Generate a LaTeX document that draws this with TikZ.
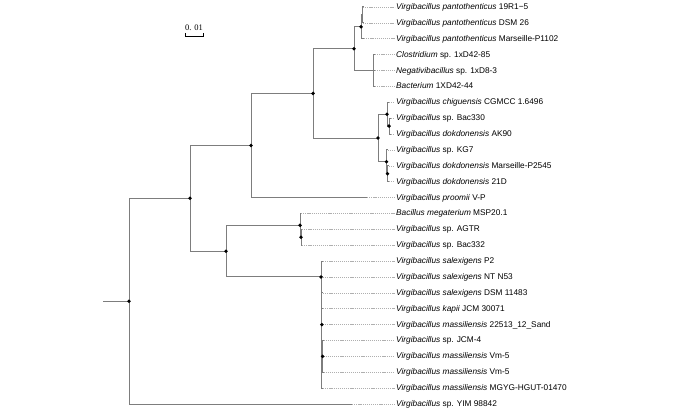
\documentclass[tikz,border=0pt]{standalone}
\usepackage{fontspec}
\setmainfont{Liberation Sans}
\newfontfamily\scalefont{Liberation Serif}
\definecolor{brc}{RGB}{125,125,125}
\definecolor{dlc}{RGB}{175,175,175}
\newcommand\spn[1]{\textit{#1}}
\begin{document}
\begin{tikzpicture}[x=1pt,y=-1pt,
  br/.style={draw=brc, line width=1pt},
  dl/.style={draw=dlc, line width=0.55pt, dash pattern=on 1.2pt off 0.9pt},
  lab/.style={anchor=west, inner xsep=1.5pt, inner ysep=0pt, text height=6pt, text depth=1pt, font=\fontsize{8.3}{10}\selectfont},
  dot/.style={circle, fill=black, inner sep=0pt, minimum size=3.8pt}]
\useasboundingbox (0,0) rectangle (700,411);

% internal nodes
\coordinate (base) at (103,301.2);
\coordinate (root) at (129,301.2);
\coordinate (A) at (190,198.3);
\coordinate (B) at (251,145.5);
\coordinate (C) at (313,93.4);
\coordinate (D) at (354,48.7);
\coordinate (E) at (361,26.85);
\coordinate (F) at (362.5,14.94);
\coordinate (G) at (373,70.52);
\coordinate (H) at (378,138.05);
\coordinate (I) at (387,114.2);
\coordinate (K) at (389,126.1);
\coordinate (J) at (386.5,161.83);
\coordinate (L) at (387.5,173.74);
\coordinate (O) at (226,251.16);
\coordinate (M) at (300,225.35);
\coordinate (N) at (301,237.26);
\coordinate (P) at (321,276.96);
\coordinate (Q) at (321.8,324.6);
\coordinate (R) at (322.6,356.36);

% tips
\foreach \i/\x in {1/363,2/363,3/364,4/375,5/375,6/375,7/389,8/390.5,9/390.5,10/388,11/389,12/389,13/367,14/301,15/302,16/302,17/323,18/323,19/323,20/323,21/323,22/323.5,23/323.5,24/323.5,25/323,26/352}
  \coordinate (t\i) at (\x,{7+(\i-1)*15.88});

% labels
\foreach \i/\t in {
 1/{\spn{Virgibacillus pantothenticus} 19R1−5},
 2/{\spn{Virgibacillus pantothenticus} DSM 26},
 3/{\spn{Virgibacillus pantothenticus} Marseille-P1102},
 4/{\spn{Clostridium} sp. 1xD42-85},
 5/{\spn{Negativibacillus} sp. 1xD8-3},
 6/{\spn{Bacterium} 1XD42-44},
 7/{\spn{Virgibacillus chiguensis} CGMCC 1.6496},
 8/{\spn{Virgibacillus} sp. Bac330},
 9/{\spn{Virgibacillus dokdonensis} AK90},
 10/{\spn{Virgibacillus} sp. KG7},
 11/{\spn{Virgibacillus dokdonensis} Marseille-P2545},
 12/{\spn{Virgibacillus dokdonensis} 21D},
 13/{\spn{Virgibacillus proomii} V-P},
 14/{\spn{Bacillus megaterium} MSP20.1},
 15/{\spn{Virgibacillus} sp. AGTR},
 16/{\spn{Virgibacillus} sp. Bac332},
 17/{\spn{Virgibacillus salexigens} P2},
 18/{\spn{Virgibacillus salexigens} NT N53},
 19/{\spn{Virgibacillus salexigens} DSM 11483},
 20/{\spn{Virgibacillus kapii} JCM 30071},
 21/{\spn{Virgibacillus massiliensis} 22513\_12\_Sand},
 22/{\spn{Virgibacillus} sp. JCM-4},
 23/{\spn{Virgibacillus massiliensis} Vm-5},
 24/{\spn{Virgibacillus massiliensis} Vm-5},
 25/{\spn{Virgibacillus massiliensis} MGYG-HGUT-01470},
 26/{\spn{Virgibacillus} sp. YIM 98842}}
  \node[lab] (l\i) at (394.5,{7+(\i-1)*15.88}) {\t};

% dotted alignment lines
\foreach \i in {1,...,26} \draw[dl] (t\i) -- (l\i);

% branches
\draw[br] (base) -- (root);
\foreach \p/\c in {root/A,root/t26,A/B,A/O,B/C,B/t13,C/D,C/H,D/E,D/G,E/F,E/t3,F/t1,F/t2,
  G/t4,G/t5,G/t6,H/I,H/J,I/t7,I/K,K/t8,K/t9,J/t10,J/L,L/t11,L/t12,
  O/M,O/P,M/t14,M/N,N/t15,N/t16,P/t17,P/t18,P/t19,P/t20,P/Q,Q/t21,Q/R,Q/t25,R/t22,R/t23,R/t24}
  \draw[br] (\p) |- (\c);

% support dots
\foreach \n in {root,A,B,C,D,E,H,I,K,J,L,O,M,N,P,Q,R}
  \node[dot] at (\n) {};

% scale bar
\coordinate (sb1) at (185,36);
\coordinate (sb2) at (203,36);
\draw[line width=0.7pt] ([yshift=3pt]sb1) -- (sb1) -- (sb2) -- ([yshift=3pt]sb2);
\node[font=\scalefont\fontsize{8.5}{10}\selectfont, inner sep=0pt] (sbl) at (194,28) {0. 01};
\end{tikzpicture}
\end{document}
